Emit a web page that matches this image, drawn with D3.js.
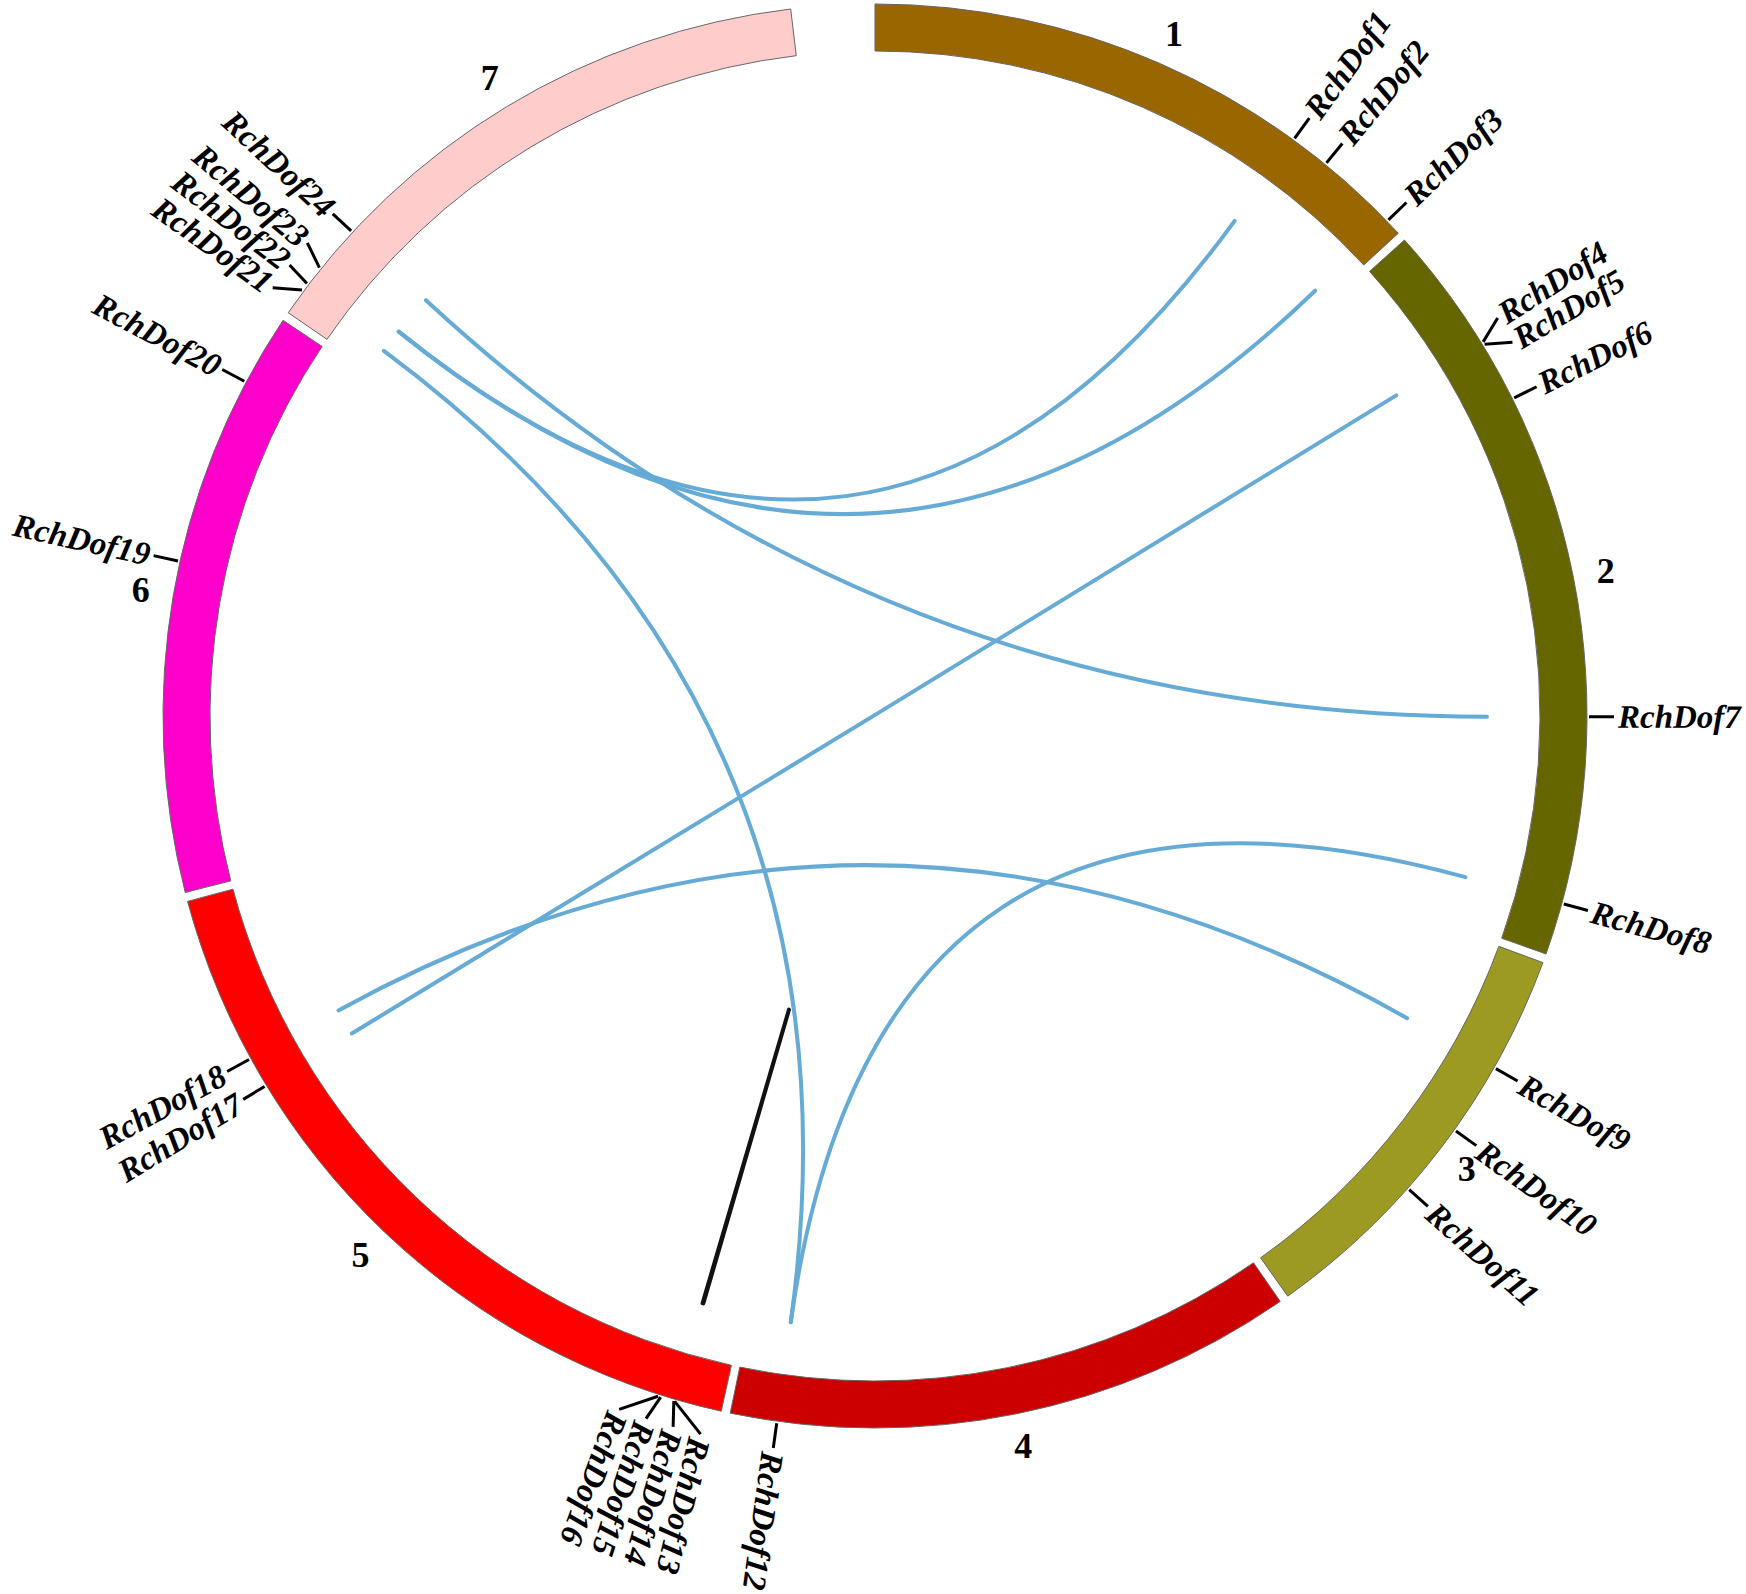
<!DOCTYPE html>
<html>
<head>
<meta charset="utf-8">
<script src="https://cdn.jsdelivr.net/npm/d3@7"></script>
<style>
  html, body { margin: 0; padding: 0; background: #fff; }
  svg { display: block; }
</style>
</head>
<body>
<svg id="circos"></svg>
<script>
// --- data ---
const chrNames = ['1', '2', '3', '4', '5', '6', '7'];
const chrLengths = [64.4, 83.7, 46.7, 63.2, 85.0, 65.5, 66.3]; // Mb
const chrColors = ['#996600', '#666600', '#9c9a22', '#cc0000', '#ff0000', '#ff00cc', '#ffcccc'];

const geneNames = [
  'RchDof1', 'RchDof2', 'RchDof3', 'RchDof4', 'RchDof5', 'RchDof6', 'RchDof7', 'RchDof8',
  'RchDof9', 'RchDof10', 'RchDof11', 'RchDof12', 'RchDof13', 'RchDof14', 'RchDof15', 'RchDof16',
  'RchDof17', 'RchDof18', 'RchDof19', 'RchDof20', 'RchDof21', 'RchDof22', 'RchDof23', 'RchDof24'
];
const geneChr = [1, 1, 1, 2, 2, 2, 2, 2, 3, 3, 3, 4, 5, 5, 5, 5, 5, 5, 6, 6, 7, 7, 7, 7];
const genePos = [
  49.0, 53.4, 62.6, 14.1, 14.4, 21.1, 57.2, 77.9,
  12.7, 20.8, 29.0, 58.0, 5.2, 5.3, 6.8, 7.1,
  63.0, 66.4, 36.6, 57.6, 2.9, 3.8, 6.0, 11.3
]; // Mb

const segmentalPairs = [
  ['RchDof24', 'RchDof7'],
  ['RchDof23', 'RchDof1'],
  ['RchDof23', 'RchDof3'],
  ['RchDof21', 'RchDof12'],
  ['RchDof4', 'RchDof17'],
  ['RchDof18', 'RchDof9'],
  ['RchDof8', 'RchDof12']
];
const tandemPairs = [['RchDof13', 'RchDof14']];

// --- layout ---
const width = 1746, height = 1594;
const cx = 875, cy = 716;
const rOuter = 712, rInner = 665, rLink = 612;
const gapDeg = 0.74, endDeg = 353.2;
const rad = Math.PI / 180;

const svg = d3.select('#circos')
  .attr('width', width)
  .attr('height', height)
  .attr('viewBox', `0 0 ${width} ${height}`);

svg.append('rect').attr('width', width).attr('height', height).attr('fill', '#fff');

const g = svg.append('g').attr('transform', `translate(${cx},${cy})`);

// angle scale per chromosome
const totalMb = d3.sum(chrLengths);
const degPerMb = (endDeg - gapDeg * (chrLengths.length - 1)) / totalMb;
const starts = [];
let acc = 0;
chrLengths.forEach(len => {
  starts.push(acc);
  acc += len * degPerMb + gapDeg;
});
const chrScales = chrLengths.map((len, i) =>
  d3.scaleLinear().domain([0, len]).range([starts[i], starts[i] + len * degPerMb]));

const chroms = chrNames.map((name, i) => ({
  name,
  color: chrColors[i],
  start: chrScales[i](0),
  end: chrScales[i](chrLengths[i])
}));

const genes = geneNames.map((name, i) => ({
  name,
  angle: chrScales[geneChr[i] - 1](genePos[i])
}));
const geneByName = new Map(genes.map(d => [d.name, d]));

const polar = (r, deg) => [r * Math.sin(deg * rad), -r * Math.cos(deg * rad)];

// --- chromosome ring ---
const arc = d3.arc().innerRadius(rInner).outerRadius(rOuter);
g.selectAll('.chrom')
  .data(chroms)
  .join('path')
  .attr('class', 'chrom')
  .attr('d', d => arc({ startAngle: d.start * rad, endAngle: d.end * rad }))
  .attr('fill', d => d.color)
  .attr('stroke', '#666')
  .attr('stroke-width', 1);

// chromosome numbers
g.selectAll('.chr-label')
  .data(chroms)
  .join('text')
  .attr('class', 'chr-label')
  .attr('x', d => polar(745, (d.start + d.end) / 2)[0])
  .attr('y', d => polar(745, (d.start + d.end) / 2)[1])
  .attr('text-anchor', 'middle')
  .attr('dominant-baseline', 'central')
  .style('font-family', '"Liberation Serif", "Times New Roman", serif')
  .style('font-weight', 'bold')
  .style('font-size', '36px')
  .text(d => d.name);

// --- links (quadratic curves through the centre) ---
const linkPath = (a, b) => {
  const p0 = polar(rLink, a.angle), p1 = polar(rLink, b.angle);
  return `M${p0[0]},${p0[1]} Q0,0 ${p1[0]},${p1[1]}`;
};

g.selectAll('.seg-link')
  .data(segmentalPairs)
  .join('path')
  .attr('class', 'seg-link')
  .attr('d', d => linkPath(geneByName.get(d[0]), geneByName.get(d[1])))
  .attr('fill', 'none')
  .attr('stroke', '#66aad6')
  .attr('stroke-width', 4)
  .attr('stroke-linecap', 'round');

g.selectAll('.tan-link')
  .data(tandemPairs)
  .join('path')
  .attr('class', 'tan-link')
  .attr('d', d => linkPath(geneByName.get(d[0]), geneByName.get(d[1])))
  .attr('fill', 'none')
  .attr('stroke', '#111')
  .attr('stroke-width', 4)
  .attr('stroke-linecap', 'round');

// --- gene labels, spread apart where crowded ---
const minSep = 2.2;
const sorted = genes.slice().sort((a, b) => a.angle - b.angle);
sorted.forEach(d => d.labelAngle = d.angle);
for (let k = 0; k < 300; k++) {
  for (let i = 0; i < sorted.length - 1; i++) {
    const gap = sorted[i + 1].labelAngle - sorted[i].labelAngle;
    if (gap < minSep) {
      const shift = (minSep - gap) / 2;
      sorted[i].labelAngle -= shift;
      sorted[i + 1].labelAngle += shift;
    }
  }
}

const tickIn = rOuter + 2, tickOut = rOuter + 27, textR = rOuter + 31;

g.selectAll('.gene-tick')
  .data(genes)
  .join('line')
  .attr('class', 'gene-tick')
  .attr('x1', d => polar(tickIn, d.angle)[0])
  .attr('y1', d => polar(tickIn, d.angle)[1])
  .attr('x2', d => polar(tickOut, d.labelAngle)[0])
  .attr('y2', d => polar(tickOut, d.labelAngle)[1])
  .attr('stroke', '#000')
  .attr('stroke-width', 3);

g.selectAll('.gene-label')
  .data(genes)
  .join('text')
  .attr('class', 'gene-label')
  .attr('transform', d => {
    const [x, y] = polar(textR, d.labelAngle);
    const flip = d.labelAngle > 210;
    return `translate(${x},${y}) rotate(${flip ? d.labelAngle + 90 : d.labelAngle - 90})`;
  })
  .attr('text-anchor', d => d.labelAngle > 210 ? 'end' : 'start')
  .attr('dominant-baseline', 'central')
  .style('font-family', '"Liberation Serif", "Times New Roman", serif')
  .style('font-weight', 'bold')
  .style('font-style', 'italic')
  .style('font-size', '33px')
  .text(d => d.name);
</script>
</body>
</html>
